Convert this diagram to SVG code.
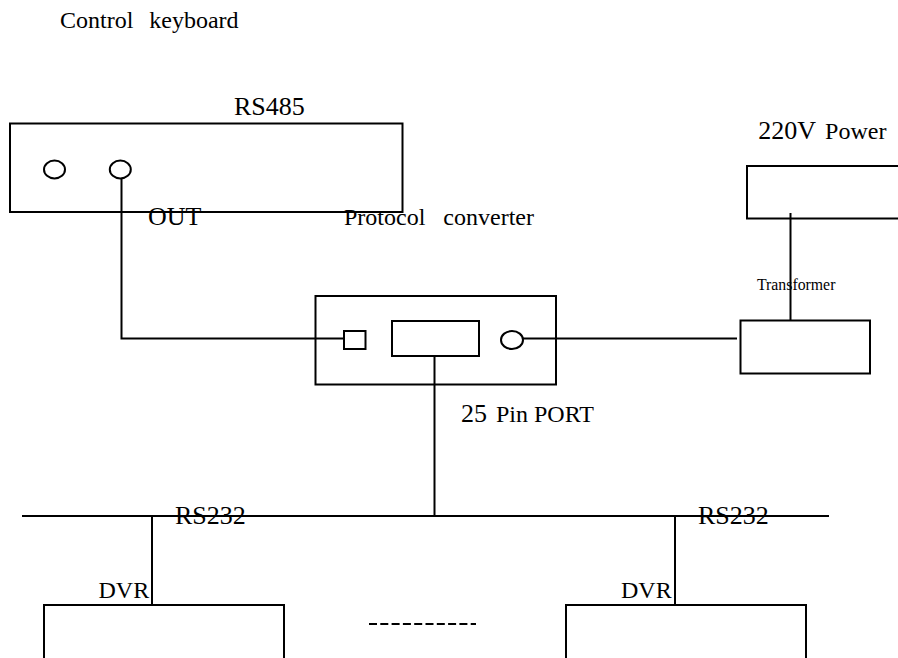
<svg xmlns="http://www.w3.org/2000/svg" width="898" height="658" viewBox="0 0 898 658">
<style>
.s{fill:none;stroke:#000;stroke-width:2}
text{font-family:"Liberation Serif","Times New Roman",serif;fill:#000;font-size:26px;white-space:pre}
.m{font-size:24px}
</style>
<rect width="898" height="658" fill="#fff"/>
<g id="connectors">
<path class="s" d="M121.500 179V338.500H344"/>
<path class="s" d="M523 338.500H737"/>
<path class="s" d="M790.500 213V320.500"/>
<path class="s" d="M434.500 356V516"/>
<path class="s" d="M22 516H829"/>
<path class="s" d="M152 516V605"/>
<path class="s" d="M675 516V605"/>
<path class="s" d="M369 624H476" stroke-dasharray="8 3.300"/>
</g>
<g id="keyboard">
<rect class="s" x="10" y="123.500" width="392.500" height="88.500"/>
<ellipse class="s" cx="54.500" cy="169.500" rx="10.500" ry="9"/>
<ellipse class="s" cx="120.300" cy="169.500" rx="10.500" ry="9"/>
<text class="m" x="60" y="28" word-spacing="-0.700">Control   keyboard</text>
<text x="234" y="115">RS485</text>
<text x="148" y="225">OUT</text>
</g>
<g id="converter">
<rect class="s" x="315.500" y="296" width="240.500" height="88.500"/>
<rect class="s" x="344" y="331" width="21.500" height="18"/>
<rect class="s" x="392" y="321" width="87" height="35"/>
<ellipse class="s" cx="512" cy="340" rx="11" ry="9"/>
<text class="m" x="344" y="225">Protocol   converter</text>
<text x="461" y="421.500">25<tspan class="m" dx="3"> Pin PORT</tspan></text>
</g>
<g id="power">
<rect class="s" x="747" y="166" width="160" height="52.500"/>
<text x="758.300" y="139">220V<tspan class="m" dx="3"> Power</tspan></text>
</g>
<g id="transformer">
<rect class="s" x="740.500" y="320.500" width="129.500" height="53"/>
<text x="757" y="290" style="font-size:15.800px">Transformer</text>
</g>
<g id="dvr1">
<rect class="s" x="44" y="605" width="240" height="70"/>
<text class="m" x="98.500" y="598">DVR</text>
<text x="175" y="524">RS232</text>
</g>
<g id="dvr2">
<rect class="s" x="566" y="605" width="240" height="70"/>
<text class="m" x="621" y="598">DVR</text>
<text x="698" y="524">RS232</text>
</g>
</svg>
